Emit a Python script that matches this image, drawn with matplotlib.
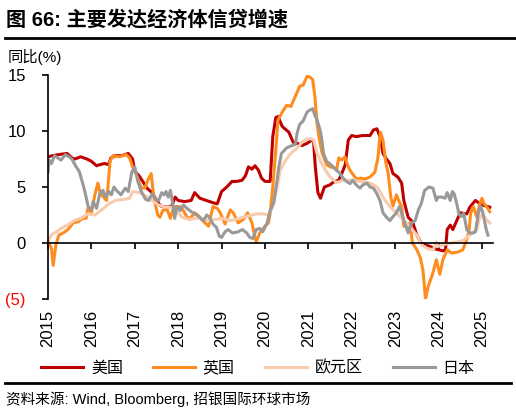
import matplotlib
matplotlib.use('Agg')
import matplotlib.pyplot as plt
from matplotlib.lines import Line2D

plt.rcParams['font.family'] = ['Liberation Sans', 'Noto Sans CJK SC']
plt.rcParams['axes.unicode_minus'] = False

# Credit growth, yoy % (decimal year, value)
us_t = [2015.0, 2015.1, 2015.25, 2015.44, 2015.55, 2015.62, 2015.75, 2015.9, 2016.0, 2016.12,
        2016.2, 2016.3, 2016.4, 2016.45, 2016.55, 2016.7, 2016.85, 2016.95, 2017.0, 2017.1,
        2017.2, 2017.28, 2017.4, 2017.5, 2017.6, 2017.75, 2017.85, 2017.93, 2018.0, 2018.15,
        2018.3, 2018.38, 2018.5, 2018.65, 2018.8, 2018.9, 2019.0, 2019.12, 2019.24, 2019.35,
        2019.47, 2019.55, 2019.62, 2019.7, 2019.77, 2019.85, 2019.92, 2020.0, 2020.12, 2020.18,
        2020.25, 2020.3, 2020.4, 2020.55, 2020.65, 2020.75, 2020.85, 2020.97, 2021.08, 2021.12,
        2021.16, 2021.22, 2021.28, 2021.37, 2021.5, 2021.6, 2021.7, 2021.78, 2021.85, 2021.92,
        2022.0, 2022.1, 2022.25, 2022.42, 2022.5, 2022.58, 2022.65, 2022.72, 2022.8, 2022.88,
        2022.95, 2023.06, 2023.15, 2023.2, 2023.3, 2023.4, 2023.5, 2023.6, 2023.72, 2023.8,
        2023.9, 2024.0, 2024.1, 2024.16, 2024.2, 2024.27, 2024.33, 2024.42, 2024.5, 2024.65,
        2024.72, 2024.85, 2024.92, 2025.0, 2025.1, 2025.18]
us_v = [7.7, 7.8, 7.9, 8.0, 7.6, 7.5, 7.7, 7.5, 7.3, 6.9,
        7.0, 7.1, 7.0, 7.6, 7.8, 7.8, 8.0, 7.5, 6.4, 6.0,
        5.4, 4.9, 4.5, 3.8, 3.3, 3.2, 3.3, 4.1, 3.8, 3.7,
        3.8, 4.5, 4.0, 3.8, 3.6, 3.5, 4.6, 5.0, 5.5, 5.5,
        5.6, 6.0, 6.8, 6.6, 6.9, 6.5, 5.8, 5.5, 5.5, 9.5,
        11.2, 11.3, 10.4, 9.9, 9.0, 8.9, 8.7, 8.9, 9.2, 9.1,
        6.8, 4.5, 4.0, 5.0, 5.2, 5.5, 5.6, 6.3, 7.0, 9.2,
        9.6, 9.5, 9.6, 9.6, 10.1, 10.2, 9.5, 8.0, 7.5, 7.1,
        6.2, 5.9, 5.35, 3.8, 2.3, 1.9, 0.7, 0.0, -0.2, -0.3,
        -0.5, -0.6, -0.7, -0.6, 1.2, 1.6, 1.2, 2.0, 2.7, 2.6,
        3.2, 3.8, 3.6, 3.4, 3.3, 3.2]

uk_t = [2015.0, 2015.08, 2015.12, 2015.18, 2015.25, 2015.35, 2015.46, 2015.58, 2015.7, 2015.8,
        2015.88, 2015.92, 2016.0, 2016.08, 2016.15, 2016.2, 2016.3, 2016.35, 2016.38, 2016.43,
        2016.5, 2016.65, 2016.8, 2016.88, 2016.95, 2017.05, 2017.15, 2017.23, 2017.3, 2017.38,
        2017.42, 2017.47, 2017.53, 2017.58, 2017.65, 2017.75, 2017.82, 2017.9, 2018.05, 2018.12,
        2018.22, 2018.3, 2018.38, 2018.45, 2018.55, 2018.7, 2018.8, 2018.9, 2018.97, 2019.08,
        2019.2, 2019.27, 2019.38, 2019.5, 2019.6, 2019.7, 2019.77, 2019.8, 2019.88, 2020.0,
        2020.08, 2020.12, 2020.18, 2020.25, 2020.3, 2020.4, 2020.5, 2020.6, 2020.7, 2020.8,
        2020.88, 2020.97, 2021.04, 2021.1, 2021.15, 2021.2, 2021.25, 2021.32, 2021.42, 2021.5,
        2021.6, 2021.65, 2021.7, 2021.77, 2021.84, 2021.9, 2021.96, 2022.05, 2022.12, 2022.2,
        2022.3, 2022.42, 2022.53, 2022.6, 2022.66, 2022.72, 2022.78, 2022.84, 2022.9, 2022.95,
        2023.03, 2023.08, 2023.15, 2023.2, 2023.3, 2023.34, 2023.4, 2023.5, 2023.58, 2023.64,
        2023.7, 2023.76, 2023.86, 2023.95, 2024.03, 2024.1, 2024.2, 2024.3, 2024.45, 2024.56,
        2024.65, 2024.7, 2024.74, 2024.8, 2024.88, 2024.96, 2025.0, 2025.05, 2025.12, 2025.18]
uk_v = [0.2, -0.5, -2.0, -0.2, 0.7, 0.9, 1.2, 1.8, 1.9, 2.2,
        2.2, 3.1, 2.7, 4.3, 5.35, 4.5, 4.0, 3.8, 4.9, 7.3,
        7.8, 7.7, 7.9, 7.6, 6.8, 6.0, 4.9, 4.9, 5.6, 6.2,
        4.7, 3.5, 2.5, 2.3, 2.95, 2.95, 2.2, 3.25, 3.25, 2.9,
        2.2, 2.3, 2.7, 2.5, 2.05, 1.5, 3.25, 3.1, 2.7, 1.7,
        2.95, 2.7, 1.8, 2.1, 2.7, 1.8, 0.5, 0.1, 0.9, 1.5,
        1.8, 2.65, 5.0, 8.3, 11.0, 11.7, 12.3, 12.2, 13.1, 14.0,
        14.1, 14.9, 14.8, 14.6, 13.1, 10.7, 9.3, 8.0, 7.0, 6.8,
        6.7, 6.5, 7.6, 7.4, 7.7, 7.0, 6.5, 6.0, 5.7, 5.8,
        5.7, 5.9, 6.3, 7.5, 9.9, 9.2, 7.3, 6.2, 4.1, 3.3,
        4.3, 3.8, 3.25, 1.5, 1.45, 1.8, 0.0, -0.6, -1.3, -2.4,
        -5.0, -3.9, -2.8, -1.5, -2.8, -1.5, -0.6, -0.9, -0.8, -0.6,
        0.3, 1.0, 2.65, 3.25, 2.35, 3.6, 4.0, 3.5, 3.2, 2.8]

ez_t = [2015.0, 2015.1, 2015.2, 2015.3, 2015.45, 2015.6, 2015.75, 2015.92, 2016.08, 2016.25,
        2016.4, 2016.55, 2016.75, 2016.88, 2016.95, 2017.1, 2017.25, 2017.4, 2017.55, 2017.7,
        2017.85, 2017.95, 2018.1, 2018.25, 2018.4, 2018.55, 2018.7, 2018.85, 2019.0, 2019.2,
        2019.4, 2019.6, 2019.8, 2019.95, 2020.08, 2020.15, 2020.2, 2020.28, 2020.35, 2020.45,
        2020.55, 2020.65, 2020.75, 2020.85, 2020.97, 2021.05, 2021.12, 2021.2, 2021.28, 2021.38,
        2021.5, 2021.65, 2021.8, 2022.0, 2022.2, 2022.4, 2022.58, 2022.65, 2022.75, 2022.88,
        2023.05, 2023.2, 2023.35, 2023.5, 2023.62, 2023.75, 2023.88, 2023.95, 2024.0, 2024.15,
        2024.3, 2024.45, 2024.58, 2024.72, 2024.88, 2024.95, 2025.02, 2025.1, 2025.18]
ez_v = [0.2, 0.8, 1.0, 1.3, 1.6, 2.0, 2.2, 2.6, 2.5, 3.0,
        3.5, 3.8, 3.9, 4.0, 4.6, 4.5, 4.2, 3.8, 3.4, 3.2,
        3.2, 2.9, 2.3, 2.1, 2.2, 2.2, 2.0, 2.1, 2.2, 2.0,
        2.2, 2.4, 2.6, 2.6, 2.5, 3.0, 3.5, 5.0, 6.5, 7.2,
        7.8, 8.2, 8.5, 9.0, 9.3, 9.3, 9.2, 8.0, 7.3, 6.6,
        5.9, 5.4, 5.6, 5.6, 5.5, 5.4, 5.0, 4.6, 3.9, 3.25,
        2.6, 2.0, 1.4, 0.7, -0.2, -0.5, -0.6, 0.1, -0.3, -0.1,
        0.0, 0.1, 0.25, 0.7, 1.2, 2.3, 2.6, 2.1, 1.8]

jp_t = [2015.0, 2015.03, 2015.08, 2015.15, 2015.3, 2015.4, 2015.48, 2015.55, 2015.65, 2015.72,
        2015.78, 2015.85, 2015.93, 2016.0, 2016.04, 2016.12, 2016.2, 2016.27, 2016.32, 2016.4,
        2016.46, 2016.52, 2016.58, 2016.68, 2016.78, 2016.85, 2016.93, 2017.0, 2017.07, 2017.15,
        2017.25, 2017.32, 2017.4, 2017.47, 2017.55, 2017.62, 2017.68, 2017.72, 2017.77, 2017.82,
        2017.88, 2017.92, 2017.97, 2018.05, 2018.12, 2018.2, 2018.3, 2018.38, 2018.47, 2018.52,
        2018.58, 2018.66, 2018.72, 2018.8, 2018.88, 2018.95, 2019.0, 2019.08, 2019.15, 2019.25,
        2019.38, 2019.48, 2019.58, 2019.65, 2019.72, 2019.8, 2019.88, 2019.95, 2020.05, 2020.12,
        2020.2, 2020.28, 2020.32, 2020.38, 2020.5, 2020.62, 2020.7, 2020.74, 2020.8, 2020.88,
        2020.97, 2021.05, 2021.1, 2021.15, 2021.2, 2021.27, 2021.3, 2021.35, 2021.42, 2021.52,
        2021.57, 2021.65, 2021.73, 2021.8, 2021.88, 2021.96, 2022.02, 2022.1, 2022.19, 2022.26,
        2022.35, 2022.42, 2022.5, 2022.58, 2022.65, 2022.72, 2022.8, 2022.88, 2022.95, 2023.02,
        2023.1, 2023.15, 2023.22, 2023.3, 2023.38, 2023.46, 2023.54, 2023.6, 2023.68, 2023.78,
        2023.87, 2023.95, 2023.98, 2024.08, 2024.15, 2024.2, 2024.27, 2024.32, 2024.36, 2024.42,
        2024.47, 2024.52, 2024.58, 2024.65, 2024.72, 2024.8, 2024.85, 2024.92, 2024.97, 2025.02,
        2025.1, 2025.14]
jp_v = [6.3, 7.4, 7.1, 7.8, 7.4, 7.9, 7.7, 7.5, 6.8, 6.4,
        5.6, 4.6, 3.2, 2.95, 3.7, 3.1, 4.5, 4.7, 4.1, 4.6,
        4.3, 5.0, 4.7, 4.3, 4.9, 4.6, 6.3, 6.8, 5.5, 4.6,
        3.9, 3.8, 4.4, 3.9, 3.8, 4.5, 4.3, 4.6, 4.1, 4.7,
        3.4, 2.2, 3.25, 2.9, 3.4, 3.1, 2.8, 2.6, 2.4, 2.2,
        2.0, 2.5, 2.3, 1.7, 1.4, 0.6, 0.5, 1.0, 1.2, 0.9,
        1.0, 1.2, 0.9, 0.5, 0.4, 1.2, 1.3, 1.0, 1.8, 2.9,
        3.6, 5.6, 6.8, 8.0, 8.5, 8.7, 8.8, 9.8, 10.6, 10.9,
        11.7, 11.9, 12.0, 11.4, 11.0, 10.1, 9.5, 8.0, 7.3, 7.0,
        6.8, 6.5, 6.2, 5.8, 5.5, 5.3, 5.6, 5.2, 4.9, 5.2,
        5.35, 5.0, 4.9, 4.4, 3.8, 2.7, 2.3, 2.0, 2.35, 2.65,
        3.25, 2.65, 1.8, 0.9, 1.8, 2.0, 3.0, 3.5, 4.7, 5.0,
        4.9, 3.8, 4.1, 4.1, 4.0, 4.5, 3.8, 4.6, 4.4, 3.5,
        2.6, 2.35, 2.65, 1.2, 0.9, 0.9, 1.0, 2.7, 3.3, 2.7,
        1.2, 0.7]

series_names = ['美国', '英国', '欧元区', '日本']
series_colors = ['#C00000', '#FF8C1F', '#F8CBAD', '#999999']
years = list(range(2015, 2026))
y_ticks = [-5, 0, 5, 10, 15]
y_labels = ['(5)', '0', '5', '10', '15']

fig = plt.figure(figsize=(5.16, 4.17), dpi=100)
ax = fig.add_axes([0.093, 0.283, 0.862, 0.537])

for t, v, name, c in zip([us_t, uk_t, ez_t, jp_t], [us_v, uk_v, ez_v, jp_v],
                         series_names, series_colors):
    ax.plot(t, v, color=c, lw=2.2, label=name)

ax.set_xlim(2015.0, 2025.25)
ax.set_ylim(-5, 15)

# spines: left axis + zero line with the year ticks
ax.spines['top'].set_visible(False)
ax.spines['right'].set_visible(False)
ax.spines['bottom'].set_position(('data', 0))
ax.spines['left'].set_linewidth(1.2)
ax.spines['bottom'].set_linewidth(1.2)

ax.set_yticks(y_ticks)
ax.set_yticklabels(y_labels)
ax.get_yticklabels()[0].set_color('red')
ax.tick_params(axis='y', direction='out', length=4, width=1.2, labelsize=12, pad=12)

ax.set_xticks(years)
ax.tick_params(axis='x', direction='out', length=4, width=1.2, labelbottom=False)

# year labels sit at the bottom of the axes, not on the zero line
sec = ax.secondary_xaxis('bottom')
sec.set_xticks(years)
sec.set_xticklabels([str(y) for y in years], rotation=90)
sec.spines['bottom'].set_visible(False)
sec.tick_params(length=0, labelsize=12, pad=8)

fig.text(0.012, 1 - 20 / 417, '图 66: 主要发达经济体信贷增速', fontsize=14.5,
         fontweight='bold', va='center', ha='left')
fig.add_artist(Line2D([0.01, 1.0], [1 - 38 / 417] * 2, color='black', lw=2))
fig.text(0.015, 1 - 57 / 417, '同比(%)', fontsize=11, va='center', ha='left')

fig.legend(loc='center', bbox_to_anchor=(0.5, 1 - 368 / 417), ncol=4, frameon=False,
           fontsize=11.5, handlelength=2.6, columnspacing=1.9, handletextpad=0.5)

fig.add_artist(Line2D([0.01, 0.99], [1 - 383 / 417] * 2, color='black', lw=2))
fig.text(0.012, 1 - 399 / 417, '资料来源: Wind, Bloomberg, 招银国际环球市场', fontsize=10.5,
         va='center', ha='left')

fig.savefig('out.png', dpi=100)
